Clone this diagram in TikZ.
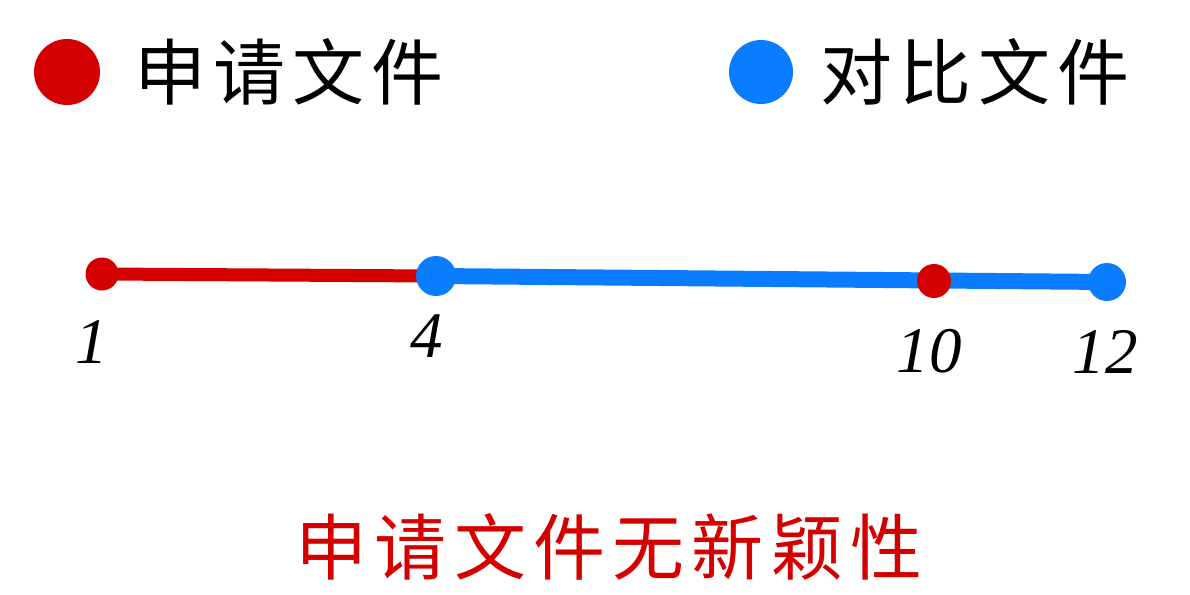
\documentclass[tikz,border=0pt]{standalone}
\usepackage{fontspec}
\setmainfont{Liberation Serif}
\newfontfamily\cjk[LetterSpace=10]{Noto Sans CJK SC}
\usepackage{xcolor}
\definecolor{appred}{RGB}{212,0,0}
\definecolor{refblue}{RGB}{10,124,255}
\begin{document}
\begin{tikzpicture}[
            x = 1pt, y = -1pt, % one unit per pixel
            reddot/.style = {shape=circle, fill=appred, inner sep=0pt},
            bluedot/.style = {shape=circle, fill=refblue, inner sep=0pt},
            num/.style = {font=\fontsize{65}{65}\selectfont\itshape, inner sep=0pt},
            zh/.style = {font=\fontsize{72}{72}\selectfont\cjk, inner sep=0pt}
        ]
\path[use as bounding box] (0,0) rectangle (1190,594);
% legend
\node[reddot, minimum size=66pt] (LA) at (67,72) {};
\node[zh, anchor=west] (TA) at (134,72) {申请文件};
\node[bluedot, minimum size=64pt] (LB) at (761,72) {};
\node[zh, anchor=west] (TB) at (820,72) {对比文件};
% points on the line
\coordinate (P1) at (102,274);
\coordinate (P4) at (436,276);
\coordinate (P10) at (934,281);
\coordinate (P12) at (1107,282);
 \draw[appred, line width=13pt] (P1) -- (P4);
 \draw[refblue, line width=16pt] (P4) -- (P12);
\node[reddot, minimum size=33pt] (A) at (P1) {};
\node[bluedot, minimum size=40pt] (B) at (P4) {};
\node[reddot, minimum size=34pt] (C) at (P10) {};
\node[bluedot, minimum size=38pt] (D) at (P12) {};
% labels
\node[num] (N1) at (92,342) {1};
\node[num] (N4) at (427,336) {4};
\node[num] (N10) at (929,351) {10};
\node[num] (N12) at (1105,352) {12};
% result
\node[zh, text=appred] (R) at (609,547) {申请文件无新颖性};
\end{tikzpicture}
\end{document}
